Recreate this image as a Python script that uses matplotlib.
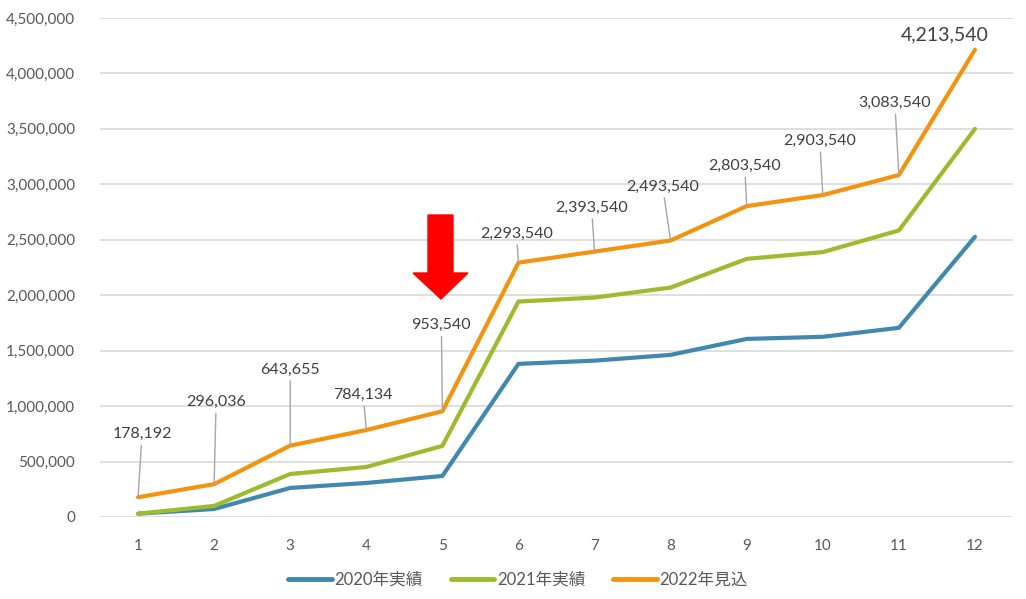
import matplotlib
matplotlib.use("Agg")
import matplotlib.pyplot as plt
from matplotlib.patches import Polygon
from matplotlib.ticker import FuncFormatter

plt.rcParams['font.family'] = ['Lato', 'Noto Sans CJK JP', 'DejaVu Sans']

months = [1, 2, 3, 4, 5, 6, 7, 8, 9, 10, 11, 12]
series_names = ['2020年実績', '2021年実績', '2022年見込']
actual_2020 = [30000, 72000, 262000, 307000, 370000, 1381000, 1410000, 1462000, 1606000, 1625000, 1706000, 2527000]
actual_2021 = [30000, 100000, 388000, 451000, 641000, 1943000, 1979000, 2069000, 2328000, 2389000, 2584000, 3500000]
forecast_2022 = [178192, 296036, 643655, 784134, 953540, 2293540, 2393540, 2493540, 2803540, 2903540, 3083540, 4213540]
yticks = [0, 500000, 1000000, 1500000, 2000000, 2500000, 3000000, 3500000, 4000000, 4500000]

colors = ['#4187B0', '#9DBB2F', '#F3930F']
text_color = '#595959'

fig = plt.figure(figsize=(10.26, 5.99), dpi=100)
ax = fig.add_axes([100/1026, 82/599, 913/1026, 499/599])

for vals, c, name in zip([actual_2020, actual_2021, forecast_2022], colors, series_names):
    ax.plot(months, vals, color=c, lw=3.0, label=name, solid_capstyle='round', solid_joinstyle='round', zorder=3)

ax.set_xlim(0.5, 12.5)
ax.set_ylim(0, 4500000)
ax.set_xticks(months)
ax.set_yticks(yticks)
ax.yaxis.set_major_formatter(FuncFormatter(lambda v, p: f"{int(v):,}"))
ax.grid(axis='y', color='#D9D9D9', lw=1.2)
ax.set_axisbelow(True)
for s in ax.spines.values():
    s.set_visible(False)
ax.tick_params(axis='both', length=0, labelsize=11, labelcolor=text_color)
ax.tick_params(axis='y', pad=18)
ax.tick_params(axis='x', pad=16)

# data labels with leader lines (offsets in pixels)
offsets = [(4, 63), (2, 82), (0, 76), (-3, 35), (-1, 86), (-2, 29), (-3, 44),
           (-8, 54), (-2, 40), (-3, 54), (-4, 72), (-30, 15)]
for i, (m, v) in enumerate(zip(months, forecast_2022)):
    dx, dy = offsets[i]
    last = (i == len(months) - 1)
    ax.annotate(f"{v:,}", xy=(m, v), xytext=(dx, dy), textcoords='offset pixels',
                ha='center', va='center', fontsize=14 if last else 11.5, color='#404040',
                arrowprops=None if last else dict(arrowstyle='-', color='#A6A6A6', lw=1.0,
                                                  shrinkA=1, shrinkB=0),
                zorder=4)

# red arrow (pixel geometry converted to data coords)
def px_to_data(px, py):
    x = (px - 100) / (913 / 12) + 0.5
    y = (517 - py) * 4500000 / 499
    return (x, y)

arrow_px = [(428, 215), (453, 215), (453, 273), (468, 273), (441, 299), (413, 273), (428, 273)]
ax.add_patch(Polygon([px_to_data(*p) for p in arrow_px], closed=True, color='#FF0000', zorder=5))

leg = fig.legend(loc='center', bbox_to_anchor=(518/1026, 1 - 580/599), ncol=3, frameon=False,
                 fontsize=12, handlelength=2.6, columnspacing=1.7, handletextpad=0.15)
for line in leg.get_lines():
    line.set_linewidth(3.5)
for t in leg.get_texts():
    t.set_color(text_color)

fig.savefig('out.png', dpi=100)
